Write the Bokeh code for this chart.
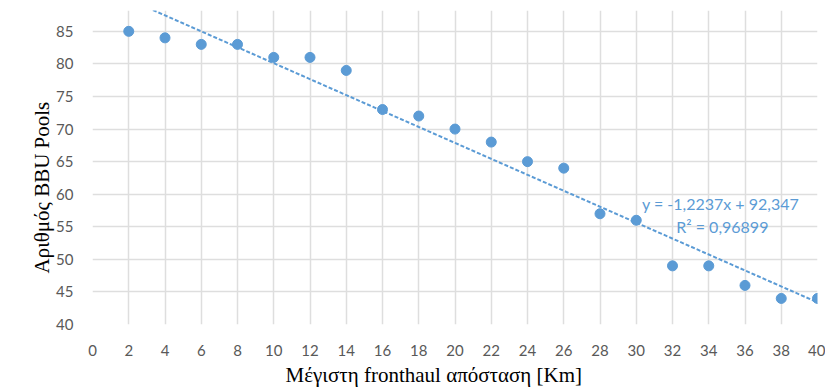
from bokeh.plotting import figure
from bokeh.models import ColumnDataSource, Label, FixedTicker, Title
from bokeh.embed import file_html
from bokeh.resources import INLINE

# Data
distance_km = [2, 4, 6, 8, 10, 12, 14, 16, 18, 20, 22, 24, 26, 28, 30, 32, 34, 36, 38, 40]
bbu_pools = [85, 84, 83, 83, 81, 81, 79, 73, 72, 70, 68, 65, 64, 57, 56, 49, 49, 46, 44, 44]
trend_slope = -1.2237
trend_intercept = 92.347
r_squared = "0,96899"
x_ticks = list(range(0, 41, 2))
y_ticks = list(range(40, 90, 5))
x_title = "Μέγιστη fronthaul απόσταση [Km]"
y_title = "Αριθμός BBU Pools"

BLUE = "#5b9bd5"
GRID = "#dedede"
TICK = "#595959"

p = figure(width=825, height=391, x_range=(0, 40), y_range=(40, 88.2),
           output_backend="svg", toolbar_location=None,
           min_border_left=92, min_border_right=8, min_border_top=10, min_border_bottom=67)
p.outline_line_color = None
p.background_fill_color = "white"

for ax in (p.xaxis[0], p.yaxis[0]):
    ax.axis_line_color = None
    ax.major_tick_line_color = None
    ax.minor_tick_line_color = None
    ax.major_label_text_font = "Lato"
    ax.major_label_text_font_size = "15px"
    ax.major_label_text_color = TICK
p.xaxis.ticker = FixedTicker(ticks=x_ticks)
p.yaxis.ticker = FixedTicker(ticks=y_ticks)
p.xaxis.major_label_standoff = 14
p.yaxis.major_label_standoff = 13

p.xgrid.ticker = FixedTicker(ticks=x_ticks)
p.ygrid.ticker = FixedTicker(ticks=y_ticks)
p.grid.grid_line_color = GRID
p.grid.grid_line_width = 1.5

# Trendline
trend_x = [0, 40]
trend_y = [trend_intercept + trend_slope * v for v in trend_x]
p.line(trend_x, trend_y, line_color=BLUE, line_width=2, line_dash="4 2")

src = ColumnDataSource(dict(x=distance_km, y=bbu_pools))
p.scatter("x", "y", source=src, size=10, fill_color=BLUE, line_color=BLUE)

p.add_layout(Label(x=34.65, y=58.6, text=f"y = {str(trend_slope).replace('.', ',')}x + {str(trend_intercept).replace('.', ',')}",
                   text_font="Lato", text_font_size="16px", text_color=BLUE,
                   text_align="center", text_baseline="middle"))
p.add_layout(Label(x=34.75, y=55.0, text=f"R² = {r_squared}",
                   text_font="Lato", text_font_size="16px", text_color=BLUE,
                   text_align="center", text_baseline="middle"))

# Axis titles
p.add_layout(Title(text=x_title, align="left", offset=193, standoff=4,
                   text_font="Liberation Serif", text_font_size="21px",
                   text_font_style="normal", text_color="black"), "below")
p.add_layout(Title(text=y_title, align="left", offset=51, standoff=0,
                   text_font="Liberation Serif", text_font_size="21px",
                   text_font_style="normal", text_color="black"), "left")

open("out.html", "w").write(file_html(p, INLINE))
